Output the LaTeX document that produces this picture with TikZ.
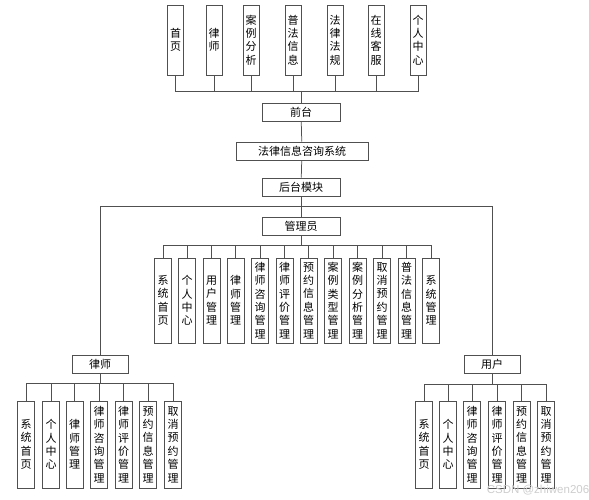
\documentclass[tikz,border=0pt]{standalone}
\usepackage{fontspec}
\newfontfamily\cjk{Noto Sans CJK SC}
\setsansfont{Liberation Sans}
\definecolor{linec}{HTML}{505050}
\definecolor{wmark}{HTML}{CDCDCD}
\begin{document}
\begin{tikzpicture}[x=1pt,y=-1pt,
  base/.style={draw=linec, line width=0.75pt, fill=white, inner sep=0pt, align=center,
    font=\cjk\fontsize{11}{13.4}\selectfont},
  topbox/.style={base, minimum width=16pt, minimum height=70pt},
  hbox/.style={base, minimum height=18pt},
  midbox/.style={base, minimum width=17pt, minimum height=85pt},
  lowbox/.style={base, minimum width=17pt, minimum height=87pt},
  conn/.style={draw=linec, line width=0.75pt}]
\useasboundingbox (0,0) rectangle (589,500);
% top row
\node[topbox] (t1) at (175.5,40) {首\\页};
\node[topbox] (t2) at (214,40) {律\\师};
\node[topbox] (t3) at (251,40) {案\\例\\分\\析};
\node[topbox] (t4) at (293,40) {普\\法\\信\\息};
\node[topbox] (t5) at (335,40) {法\\律\\法\\规};
\node[topbox] (t6) at (376,40) {在\\线\\客\\服};
\node[topbox] (t7) at (418,40) {个\\人\\中\\心};
\coordinate (h1) at (301,91);
% main chain
\node[hbox, minimum width=78pt] (qt) at (301,112) {前台};
\node[hbox, minimum width=132pt] (sys) at (302,151) {法律信息咨询系统};
\node[hbox, minimum width=78pt] (ht) at (301,187) {后台模块};
\coordinate (h2) at (301,206);
\node[hbox, minimum width=78pt] (adm) at (301,226) {管理员};
\node[hbox, minimum width=56pt] (ls) at (100,364) {律师};
\node[hbox, minimum width=56pt] (yh) at (492,364) {用户};
% admin children
\coordinate (h3) at (301,245);
\node[midbox] (m1) at (163,300.5) {系\\统\\首\\页};
\node[midbox] (m2) at (187,300.5) {个\\人\\中\\心};
\node[midbox] (m3) at (211.5,300.5) {用\\户\\管\\理};
\node[midbox] (m4) at (235.5,300.5) {律\\师\\管\\理};
\node[midbox] (m5) at (260,300.5) {律\\师\\咨\\询\\管\\理};
\node[midbox] (m6) at (284.5,300.5) {律\\师\\评\\价\\管\\理};
\node[midbox] (m7) at (308.5,300.5) {预\\约\\信\\息\\管\\理};
\node[midbox] (m8) at (333,300.5) {案\\例\\类\\型\\管\\理};
\node[midbox] (m9) at (357.5,300.5) {案\\例\\分\\析\\管\\理};
\node[midbox] (m10) at (382,300.5) {取\\消\\预\\约\\管\\理};
\node[midbox] (m11) at (406.5,300.5) {普\\法\\信\\息\\管\\理};
\node[midbox] (m12) at (431,300.5) {系\\统\\管\\理};
% lawyer children
\coordinate (h4) at (100,383);
\node[lowbox] (l1) at (26,444.5) {系\\统\\首\\页};
\node[lowbox] (l2) at (51,444.5) {个\\人\\中\\心};
\node[lowbox] (l3) at (74.5,444.5) {律\\师\\管\\理};
\node[lowbox] (l4) at (99,444.5) {律\\师\\咨\\询\\管\\理};
\node[lowbox] (l5) at (123.5,444.5) {律\\师\\评\\价\\管\\理};
\node[lowbox] (l6) at (148,444.5) {预\\约\\信\\息\\管\\理};
\node[lowbox] (l7) at (173,444.5) {取\\消\\预\\约\\管\\理};
% user children
\coordinate (h5) at (492,384);
\node[lowbox] (u1) at (424,444.5) {系\\统\\首\\页};
\node[lowbox] (u2) at (448,444.5) {个\\人\\中\\心};
\node[lowbox] (u3) at (472,444.5) {律\\师\\咨\\询\\管\\理};
\node[lowbox] (u4) at (497,444.5) {律\\师\\评\\价\\管\\理};
\node[lowbox] (u5) at (521.5,444.5) {预\\约\\信\\息\\管\\理};
\node[lowbox] (u6) at (546,444.5) {取\\消\\预\\约\\管\\理};
% connectors
\foreach \n in {t1,t2,t3,t4,t5,t6,t7} \draw[conn] (\n.south) |- (h1);
\draw[conn] (h1) -- (qt.north);
\draw[conn] (qt) -- (sys);
\draw[conn] (sys) -- (ht);
\draw[conn] (ht) -- (h2);
\draw[conn] (h2) -- (adm);
\draw[conn] (ls.north) |- (h2);
\draw[conn] (yh.north) |- (h2);
\draw[conn] (adm) -- (h3);
\foreach \n in {m1,m2,m3,m4,m5,m6,m7,m8,m9,m10,m11,m12} \draw[conn] (\n.north) |- (h3);
\draw[conn] (ls) -- (h4);
\foreach \n in {l1,l2,l3,l4,l5,l6,l7} \draw[conn] (\n.north) |- (h4);
\draw[conn] (yh) -- (h5);
\foreach \n in {u1,u2,u3,u4,u5,u6} \draw[conn] (\n.north) |- (h5);
% watermark
\node[text=wmark, font=\sffamily\fontsize{11.5}{13}\selectfont, inner sep=0pt] (wm) at (538,490) {CSDN @zhiwen206};
\end{tikzpicture}
\end{document}
